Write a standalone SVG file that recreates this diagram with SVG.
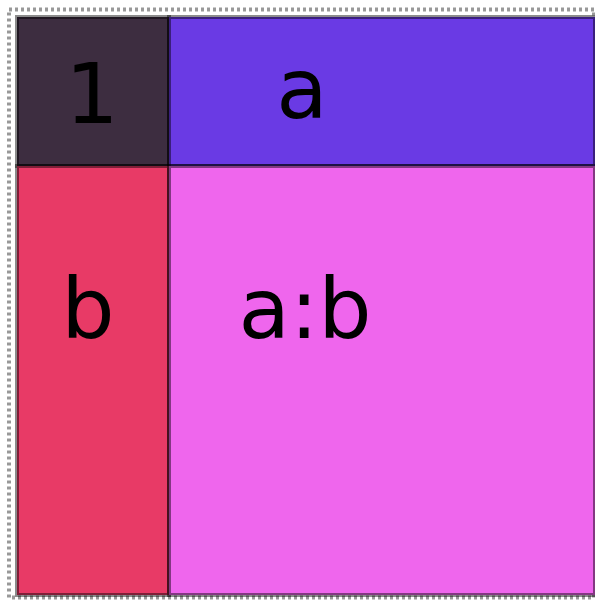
<svg xmlns="http://www.w3.org/2000/svg" width="595" height="601" viewBox="0 0 595 601">
<style>
.cell{stroke:#000;stroke-opacity:0.45;stroke-width:4}
.lbl{font-family:"DejaVu Sans",sans-serif;font-size:84px;fill:#000;text-anchor:middle}
</style>
<rect width="595" height="601" fill="#fff"/>
<rect x="9" y="9.5" width="585" height="588" fill="none" stroke="#999" stroke-width="4" stroke-dasharray="3,3"/>
<g id="cell-1">
<rect class="cell" x="17" y="17" width="152" height="149" fill="#3d2d40"/>
<text class="lbl" x="92" y="123">1</text>
</g>
<g id="cell-a">
<rect class="cell" x="169" y="17" width="426" height="149" fill="#6a3ae4"/>
<text class="lbl" x="302" y="118">a</text>
</g>
<g id="cell-b">
<rect class="cell" x="17" y="166" width="152" height="429" fill="#e83a66"/>
<text class="lbl" x="88" y="338">b</text>
</g>
<g id="cell-ab">
<rect class="cell" x="169" y="166" width="426" height="429" fill="#ef66ed"/>
<text class="lbl" x="305" y="338">a:b</text>
</g>
<g id="connectors"/>
</svg>
